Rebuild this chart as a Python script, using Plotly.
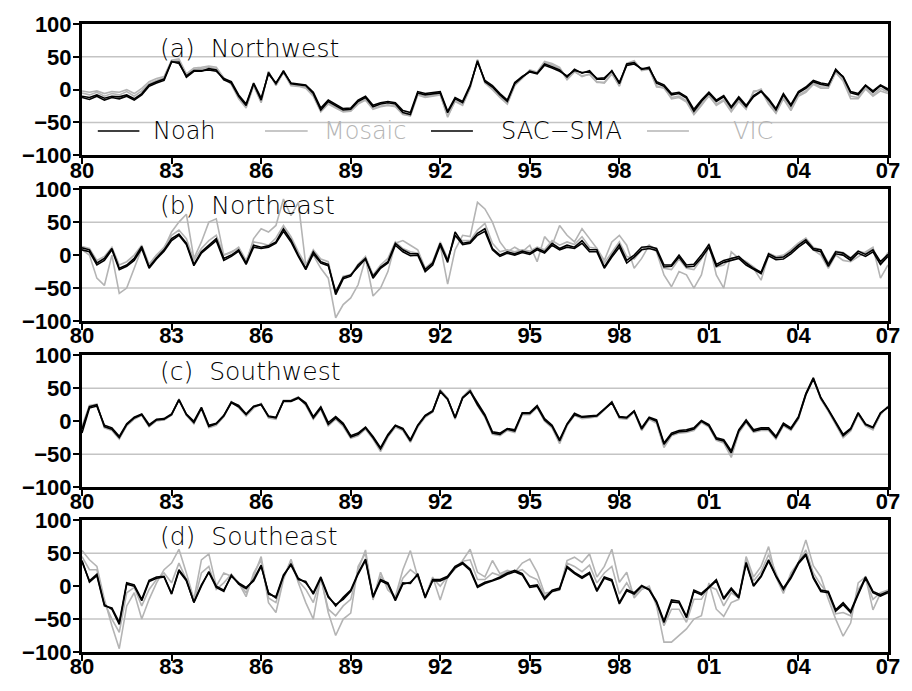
import pandas as pd
import plotly.graph_objects as go

# quarterly anomalies (1980Q1 .. 2007Q1)
dates = pd.date_range("1980-01-01", periods=109, freq="QS")

noah_a = [-12,-15,-10,-16, -12,-14,-10,-16, -8,5,10,14, 42,42,19,28, 28,32,30,15, 10,-10,-24,9,
          -16,26,9,29, 9,8,6,-6, -31,-18,-25,-31, -30,-18,-12,-26, -22,-20,-22,-35, -38,-5,-8,-6,
          -5,-35,-14,-20, 5,44,12,4, -8,-18,9,19, 28,25,39,35, 30,19,31,25, 29,16,16,29,
          9,39,41,31, 34,10,5,-8, -6,-13,-33,-18, -6,-18,-11,-28, -13,-26,-11,-3, -16,-31,-8,-25,
          -5,2,12,8, 6,31,19,-5, -8,6,-4,6, -1]
sac_a = [-10,-12,-8,-13, -10,-11,-8,-14, -6,7,12,16, 43,40,21,29, 29,30,28,17, 12,-8,-22,10,
         -13,24,10,27, 10,9,7,-4, -28,-16,-23,-29, -28,-16,-10,-24, -20,-18,-20,-32, -35,-3,-6,-4,
         -3,-33,-12,-18, 7,42,14,6, -6,-16,11,20, 27,24,37,33, 28,21,29,26, 27,17,18,28,
         11,37,39,32, 32,12,7,-6, -4,-11,-30,-16, -4,-16,-9,-26, -11,-24,-9,-2, -14,-29,-6,-23,
         -3,4,14,10, 8,29,20,-3, -6,7,-2,7, 1]
mosaic_a = [-2,-4,-2,-6, -3,-4,0,-6, 2,12,17,20, 45,47,24,33, 34,36,34,18, 8,-14,-28,6,
            -20,28,6,26, 6,5,2,-10, -34,-22,-28,-34, -33,-22,-16,-30, -26,-24,-26,-38, -40,-8,-12,-10,
            -8,-40,-18,-24, 2,46,10,0, -12,-22,6,18, 30,27,43,40, 34,16,28,20, 24,12,10,24,
            6,40,44,30, 33,6,2,-12, -10,-17,-36,-22, -10,-22,-15,-32, -16,-28,-4,1, -20,-35,-12,-30,
            -8,-2,10,4, 4,28,15,-10, -12,3,-8,2, -4]
vic_a = [-5,-8,-4,-10, -6,-8,-3,-10, -2,9,14,18, 44,45,22,31, 32,34,32,17, 9,-12,-27,7,
         -19,27,7,27, 7,6,3,-9, -33,-21,-27,-33, -32,-21,-15,-29, -25,-23,-25,-37, -40,-7,-11,-9,
         -7,-42,-17,-23, 3,45,11,1, -11,-21,7,17, 29,26,41,38, 32,15,27,21, 23,11,11,25,
         5,38,43,29, 31,4,3,-14, -12,-19,-38,-24, -9,-24,-17,-34, -18,-30,-2,-1, -22,-36,-14,-32,
         -10,-4,8,2, 2,26,13,-14, -14,1,-10,-2, -6]

noah_b = [11,8,-12,-5, 10,-20,-15,-5, 13,-18,-4,8, 25,32,18,-14, 5,15,25,-5, 0,8,-12,15,
          12,14,20,40, 23,0,-20,5, -10,-14,-60,-36, -32,-15,-5,-35, -20,-12,15,5, -1,0,-25,-15,
          15,-11,35,18, 20,33,40,10, 0,5,2,6, 3,10,5,18, 10,15,12,22, 8,8,-18,0,
          16,-8,0,12, 13,10,-15,-15, 0,-15,-14,0, 16,-14,-8,-5, -2,-12,-20,-26, 2,-4,-3,5,
          15,23,10,8, -14,5,3,-5, 6,1,8,-10, 1]
sac_b = [8,5,-15,-8, 8,-22,-17,-8, 10,-20,-6,6, 22,30,16,-16, 3,12,22,-8, -2,6,-14,12,
         10,12,18,36, 20,-2,-22,2, -12,-16,-56,-34, -30,-18,-6,-32, -18,-10,18,8, 2,2,-22,-12,
         18,-8,30,16, 18,30,36,8, -2,3,0,4, 1,8,3,15, 8,12,10,18, 5,5,-20,-3,
         12,-12,-3,8, 10,7,-18,-17, -3,-18,-17,-4, 12,-17,-11,-8, -5,-15,-22,-28, -1,-7,-6,2,
         12,20,8,5, -17,2,0,-8, 3,-2,5,-14, -2]
mosaic_b = [13,10,-8,-2, 12,-15,-10,0, 15,-14,0,12, 30,38,25,-8, 10,22,30,0, 4,12,-8,20,
            18,15,26,45, 28,5,-15,8, -6,-10,-58,-32, -30,-14,-2,-30, -15,-5,20,10, 5,3,-20,-10,
            20,-5,28,22, 22,38,48,18, 5,8,5,8, 6,12,8,22, 15,20,16,28, 12,10,-12,5,
            20,-2,-6,8, 15,8,-20,-22, -6,-20,-22,-6, 14,-18,-15,-4, -4,-10,-18,-28, 3,-2,0,8,
            18,26,12,8, -12,6,4,-4, 6,3,10,-15, 4]
vic_b = [8,0,-35,-46, 0,-58,-50,-20, 10,-15,0,10, 35,50,62,-5, 20,50,55,0, 5,10,-12,25,
         40,35,45,85, 60,80,-15,0, -20,-35,-95,-75, -65,-45,-5,-62, -50,-25,18,22, 15,8,-20,-12,
         15,-44,8,30, 28,80,70,50, 20,5,12,5, 15,-10,28,15, 45,30,20,40, 25,10,-8,20,
         30,15,-20,-5, 15,5,-30,-48, -25,-30,-50,-30, 18,-30,-50,5, -5,-10,-20,-38, 0,-5,-2,8,
         18,25,8,0, -20,0,-8,-10, -2,5,12,-35, -15]

noah_c = [-12,22,25,-8, -12,-25,-5,5, 10,-7,2,3, 10,32,10,-2, 20,-8,-4,8, 28,22,10,22,
          25,7,5,30, 30,35,26,5, 20,-5,5,-5, -24,-20,-10,-25, -42,-22,-7,-12, -30,-7,8,15,
          45,33,5,35, 45,25,8,-18, -20,-12,-15,12, 12,22,2,-8, -30,-5,10,6, 7,8,18,28,
          6,5,15,-12, 5,0,-35,-20, -16,-15,-12,0, -7,-27,-30,-48, -15,0,-15,-12, -12,-25,-5,-12,
          5,40,64,35, 17,-2,-22,-12, 12,-5,-10,12, 22]
sac_c = [-18,20,23,-6, -10,-23,-4,6, 11,-5,3,4, 11,33,11,0, 21,-6,-3,9, 29,24,11,23,
         26,8,6,31, 31,36,28,7, 22,-2,7,-3, -22,-18,-9,-23, -40,-20,-6,-11, -28,-6,9,16,
         46,34,6,36, 46,27,10,-16, -18,-11,-13,13, 13,24,4,-6, -28,-4,12,7, 8,9,19,29,
         7,6,16,-10, 6,2,-33,-18, -14,-13,-10,1, -5,-25,-28,-45, -13,2,-13,-10, -10,-23,-3,-10,
         7,42,66,36, 18,0,-20,-11, 13,-4,-9,13, 21]
mosaic_c = [-8,24,26,-10, -14,-27,-6,4, 9,-8,1,2, 9,34,9,-4, 19,-10,-6,7, 30,21,8,20,
            27,5,3,32, 32,37,24,3, 18,-7,3,-8, -26,-22,-12,-27, -46,-24,-9,-14, -32,-9,6,14,
            48,35,3,37, 49,24,6,-20, -22,-14,-17,10, 10,21,0,-10, -34,-7,9,4, 5,7,17,30,
            4,3,14,-14, 3,-3,-40,-22, -18,-17,-14,-2, -9,-29,-33,-55, -18,-2,-17,-14, -14,-27,-7,-14,
            3,42,66,33, 15,-4,-25,-15, 10,-7,-13,10, 23]
vic_c = [-10,23,24,-9, -13,-26,-7,3, 9,-8,1,2, 10,33,9,-3, 19,-9,-5,7, 29,21,9,21,
         26,6,4,31, 31,36,25,4, 19,-6,4,-6, -25,-21,-11,-26, -44,-23,-8,-13, -31,-8,7,14,
         47,34,4,36, 47,24,7,-19, -21,-13,-16,11, 11,21,1,-9, -32,-6,9,5, 6,7,17,29,
         5,4,14,-13, 4,-2,-38,-21, -17,-16,-13,-1, -8,-28,-32,-52, -16,-1,-16,-13, -13,-26,-6,-13,
         4,41,65,34, 16,-3,-24,-14, 11,-6,-12,11, 22]

noah_d = [39,6,16,-30, -33,-55,5,2, -20,9,14,15, -11,25,10,-25, 0,22,0,-6, 15,5,-2,8,
          30,-10,-18,15, 34,12,5,-10, 14,-15,-30,-17, -6,20,41,-15, 10,5,-20,5, 4,19,-18,10,
          10,15,30,36, 26,0,6,9, 14,20,24,19, 0,2,-18,-6, -3,30,21,14, 21,-6,14,10,
          -25,-5,-10,1, -5,-23,-53,-21, -23,-46,-6,-11, -1,10,-18,-3, -16,36,1,16, 40,16,-3,14,
          36,49,14,-6, -8,-36,-25,-38, -11,14,-8,-13, -8]
sac_d = [37,8,18,-28, -35,-58,3,0, -22,7,12,14, -12,23,8,-24, 2,21,-2,-8, 17,3,-4,10,
         32,-12,-16,17, 32,10,7,-12, 12,-17,-28,-20, -8,18,39,-17, 8,3,-22,3, 6,17,-16,8,
         8,13,28,34, 24,-2,4,8, 12,18,22,17, -2,0,-20,-8, -5,28,19,12, 19,-8,12,8,
         -27,-7,-12,0, -6,-25,-55,-24, -25,-48,-8,-13, -3,8,-20,-5, -18,34,0,14, 38,15,-5,12,
         34,47,12,-8, -10,-38,-28,-40, -13,12,-10,-15, -10]
mosaic_d = [45,25,25,-25, -50,-70,-10,-2, -30,-5,10,20, 5,35,10,-25, 20,30,-5,5, 18,5,-10,15,
            45,-18,-25,15, 38,8,-5,-25, 12,-35,-45,-30, -20,25,55,-18, 15,0,-18,12, 25,16,-16,12,
            0,15,28,38, 40,10,10,20, 16,22,22,25, 15,10,-15,-8, -5,35,30,22, 32,5,20,30,
            -12,5,-15,-2, -3,-25,-60,-35, -35,-55,-20,-20, 0,-5,-30,-10, -18,40,8,22, 48,20,-8,16,
            36,55,20,2, -12,-42,-40,-45, -5,10,-20,-10, -6]
vic_d = [54,40,30,-20, -60,-95,-30,-10, -50,-20,5,25, 35,56,20,-20, 40,49,0,20, 15,5,-16,20,
         40,-25,-40,10, 41,5,-25,-50, 14,-40,-75,-50, -41,30,50,-21, 21,-6,-16,25, 54,14,-16,14,
         -21,14,26,39, 56,21,14,39, 19,24,21,35, 41,21,-11,-8, -6,39,44,36, 49,14,30,56,
         6,21,-18,-5, 0,-30,-85,-85, -75,-65,-50,-45, 5,-35,-46,-25, -20,45,14,30, 60,14,-11,20,
         36,70,31,14, -20,-50,-76,-56, 5,14,-36,-11, -11]

panels = [
    ("(a)\u00a0\u00a0Northwest", noah_a, mosaic_a, sac_a, vic_a, 63),
    ("(b)\u00a0\u00a0Northeast", noah_b, mosaic_b, sac_b, vic_b, 75),
    ("(c)\u00a0\u00a0Southwest", noah_c, mosaic_c, sac_c, vic_c, 75),
    ("(d)\u00a0\u00a0Southeast", noah_d, mosaic_d, sac_d, vic_d, 75),
]
year_ticks = list(range(1980, 2008, 3))
tick_vals = [f"{y}-01-01" for y in year_ticks]
tick_text = [f"{y % 100:02d}" for y in year_ticks]
y_ticks = [-100, -50, 0, 50, 100]

BLACK = "#000000"
GRAY = "#b4b4b4"
domains = [(0.791, 1.0), (0.527, 0.737), (0.2626, 0.4723), (0.0, 0.2097)]

fig = go.Figure()
layout = {}
shapes = []
annotations = []
tick_font = dict(family="Liberation Sans", size=22, color="black", weight="bold")
label_font = dict(family="DejaVu Sans", size=25, color="black", weight=300)

for i, (title, noah, mosaic, sac, vic, ty) in enumerate(panels):
    n = i + 1
    xa = "x" if n == 1 else f"x{n}"
    ya = "y" if n == 1 else f"y{n}"
    for name, vals, col in [("VIC", vic, GRAY), ("Mosaic", mosaic, GRAY),
                            ("SAC-SMA", sac, BLACK), ("Noah", noah, BLACK)]:
        fig.add_trace(go.Scatter(x=dates, y=vals, mode="lines", name=name,
                                 line=dict(color=col, width=1.6),
                                 xaxis=xa, yaxis=ya, showlegend=False))
    layout["xaxis" if n == 1 else f"xaxis{n}"] = dict(
        type="date", range=["1980-01-01", "2007-01-01"], domain=[0, 1],
        anchor=ya, tickvals=tick_vals, ticktext=tick_text,
        ticks="outside", ticklen=6, tickwidth=2, tickcolor="black",
        ticklabelstandoff=-13,
        showline=True, linewidth=3, linecolor="black", mirror=True,
        showgrid=False, zeroline=False, tickfont=tick_font)
    layout["yaxis" if n == 1 else f"yaxis{n}"] = dict(
        range=[-100, 100], domain=list(domains[i]), anchor=xa,
        tickvals=y_ticks, ticks="outside", ticklen=6, tickwidth=2, tickcolor="black",
        ticklabelstandoff=-3,
        showline=True, linewidth=3, linecolor="black", mirror=True,
        showgrid=False, zeroline=False, tickfont=tick_font)
    for gv in (-50, 50):
        shapes.append(dict(type="line", xref=f"{xa} domain", yref=ya, x0=0, x1=1,
                           y0=gv, y1=gv, line=dict(color="#c4c4c4", width=1.5), layer="below"))
    annotations.append(dict(text=title, xref=f"{xa} domain", yref=ya, x=0.0945, y=ty,
                            xanchor="left", yanchor="middle", showarrow=False, font=label_font))

# legend drawn inside panel (a)
legend_items = [("Noah", BLACK, 0.0196, 0.0712, 0.0859),
                ("Mosaic", GRAY, 0.227, 0.280, 0.298),
                ("SAC\u2212SMA", BLACK, 0.433, 0.485, 0.517),
                ("VIC", GRAY, 0.701, 0.753, 0.805)]
for name, col, lx0, lx1, tx in legend_items:
    shapes.append(dict(type="line", xref="x domain", yref="y", x0=lx0, x1=lx1,
                       y0=-63, y1=-63, line=dict(color=col, width=1.6)))
    annotations.append(dict(text=name, xref="x domain", yref="y", x=tx, y=-63,
                            xanchor="left", yanchor="middle", showarrow=False,
                            font=dict(family="DejaVu Sans", size=24, color=col, weight=300)))

fig.update_layout(**layout)
fig.update_layout(width=912, height=691, margin=dict(l=82, r=15, t=19, b=33),
                  paper_bgcolor="white", plot_bgcolor="white",
                  shapes=shapes, annotations=annotations, showlegend=False)
fig.write_html("out.html")
